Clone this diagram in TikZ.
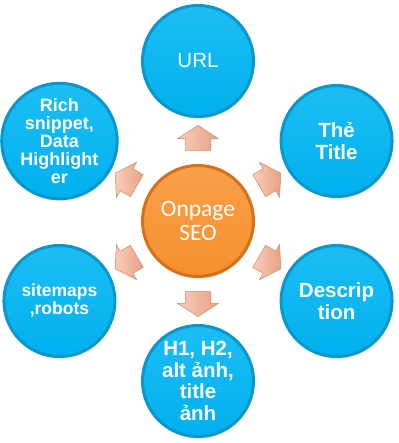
\documentclass[tikz,border=0pt]{standalone}
\usepackage{fontspec}
\setmainfont{Liberation Sans}
\newfontfamily\calibri{Carlito}
\usetikzlibrary{shapes.arrows,shadows,calc}
\definecolor{bluein}{HTML}{00B0EF}
\definecolor{bluetop}{HTML}{1CBEF3}
\definecolor{bluerim}{HTML}{0A97CB}
\definecolor{orin}{HTML}{F68F2C}
\definecolor{ortop}{HTML}{F9A04A}
\definecolor{orrim}{HTML}{D6701A}
\definecolor{peachlt}{HTML}{F8CDB9}
\definecolor{peachdk}{HTML}{E7A184}
\definecolor{peachrim}{HTML}{C98A6E}
\tikzset{
  bubble/.style={circle, minimum size=111pt, inner sep=0pt, line width=3pt,
    draw=bluerim, top color=bluetop, bottom color=bluein, text=white,
    align=center, drop shadow={shadow xshift=0.8pt, shadow yshift=-2pt, opacity=0.35}},
  hub/.style={circle, minimum size=111pt, inner sep=0pt, line width=3pt,
    draw=orrim, top color=ortop, bottom color=orin, text=white,
    align=center, drop shadow={shadow xshift=0.8pt, shadow yshift=-2pt, opacity=0.35}},
  blockarrow/.style={single arrow, inner sep=0pt, minimum width=40pt,
    minimum height=25pt, single arrow head extend=7.5pt, single arrow tip angle=114,
    text height=25pt, text depth=0pt, text width=0pt,
    left color=peachlt, right color=peachdk, draw=peachrim, line width=0.5pt},
  boldtext/.style={font=\bfseries\fontsize{20.5}{21.5}\selectfont}
}
\begin{document}
\begin{tikzpicture}[x=1pt,y=1pt]
\useasboundingbox (0,0) rectangle (398,443);
\coordinate (c) at (198,222);
\node[hub, font=\calibri\fontsize{23.5}{24}\selectfont] (seo) at (c) {Onpage\\SEO};
\node[bubble, font=\fontsize{20.5}{22}\selectfont] (url) at ($(c)+(90:160)$) {URL};
\node[bubble, boldtext] (title) at ($(c)+(30:160)$) {Thẻ\\[0.5pt]Title};
\node[bubble, boldtext] (desc) at ($(c)+(-30:160)$) {Descrip\\tion};
\node[bubble, boldtext] (hone) at ($(c)+(-90:160)$) {H1, H2,\\alt ảnh,\\title\\ảnh};
\node[bubble, font=\bfseries\fontsize{17.5}{18}\selectfont] (site) at ($(c)+(-150:160)$) {sitemaps\\,robots};
\node[bubble, font=\bfseries\fontsize{18}{18}\selectfont] (rich) at ($(c)+(150:160)$) {Rich\\snippet,\\Data\\Highlight\\er};
\foreach \ang/\nm in {90/a1,30/a2,-30/a3,-90/a4,-150/a5,150/a6}{
  \node[blockarrow, rotate=\ang, anchor=center] (\nm) at ($(c)+(\ang:79)$) {};
}
\end{tikzpicture}
\end{document}
